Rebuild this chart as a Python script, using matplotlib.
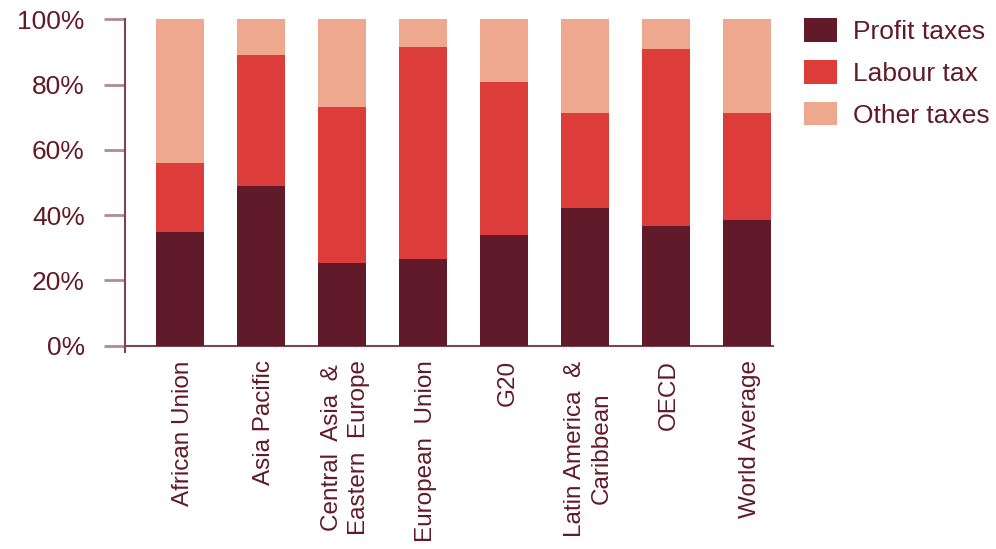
import numpy as np
import matplotlib as mpl
mpl.use('Agg')
import matplotlib.pyplot as plt

plt.rcParams['font.family'] = ['Liberation Sans', 'DejaVu Sans']

regions = ['African Union', 'Asia Pacific', 'Central  Asia  &\nEastern  Europe', 'European  Union',
           'G20', 'Latin America  &\nCaribbean', 'OECD', 'World Average']
profit = [34.9, 49.0, 25.4, 26.5, 33.9, 42.1, 36.7, 38.5]
labour = [21.0, 40.1, 47.8, 65.1, 46.9, 29.2, 54.1, 32.8]
other = [100 - p - l for p, l in zip(profit, labour)]

C_PROFIT, C_LABOUR, C_OTHER = '#611A2A', '#DC3D3A', '#EDA88E'
C_TEXT, C_AXIS = '#611A2A', '#7A4656'

fig = plt.figure(figsize=(9.96, 5.49), dpi=100)
ax = fig.add_axes([0.1255, 0.3585, 0.776 - 0.1255, 0.9648 - 0.3585])
x = np.arange(len(regions))
w = 0.6
ax.bar(x, profit, w, color=C_PROFIT, label='Profit taxes')
ax.bar(x, labour, w, bottom=profit, color=C_LABOUR, label='Labour tax')
ax.bar(x, other, w, bottom=[p + l for p, l in zip(profit, labour)], color=C_OTHER, label='Other taxes')

ax.set_xlim(-0.68, 7.32)
ax.set_ylim(-2, 100)
for s in ['top', 'right']:
    ax.spines[s].set_visible(False)
ax.spines['bottom'].set_position(('data', 0))
for s in ['left', 'bottom']:
    ax.spines[s].set_color(C_AXIS)
    ax.spines[s].set_linewidth(1.5)
ax.spines['bottom'].set_zorder(0)

ax.set_yticks([0, 20, 40, 60, 80, 100])
ax.set_yticklabels([f'{v}%' for v in [0, 20, 40, 60, 80, 100]])
ax.tick_params(axis='y', length=15, width=2, color='#B08A94', pad=14, labelsize=19, labelcolor=C_TEXT)
ax.set_xticks([])
for i, r in enumerate(regions):
    ax.text(i + 0.04, -4.5, r, rotation=90, ha='center', va='top', fontsize=17.5, color=C_TEXT,
            linespacing=1.3, multialignment='center')

leg = fig.legend(loc='upper left', bbox_to_anchor=(0.789, 1.0), frameon=False, fontsize=19,
                 handlelength=1.25, handleheight=1.0, labelspacing=0.6, handletextpad=0.6,
                 borderaxespad=0.3)
for t in leg.get_texts():
    t.set_color(C_TEXT)

fig.savefig('out.png', dpi=100)
